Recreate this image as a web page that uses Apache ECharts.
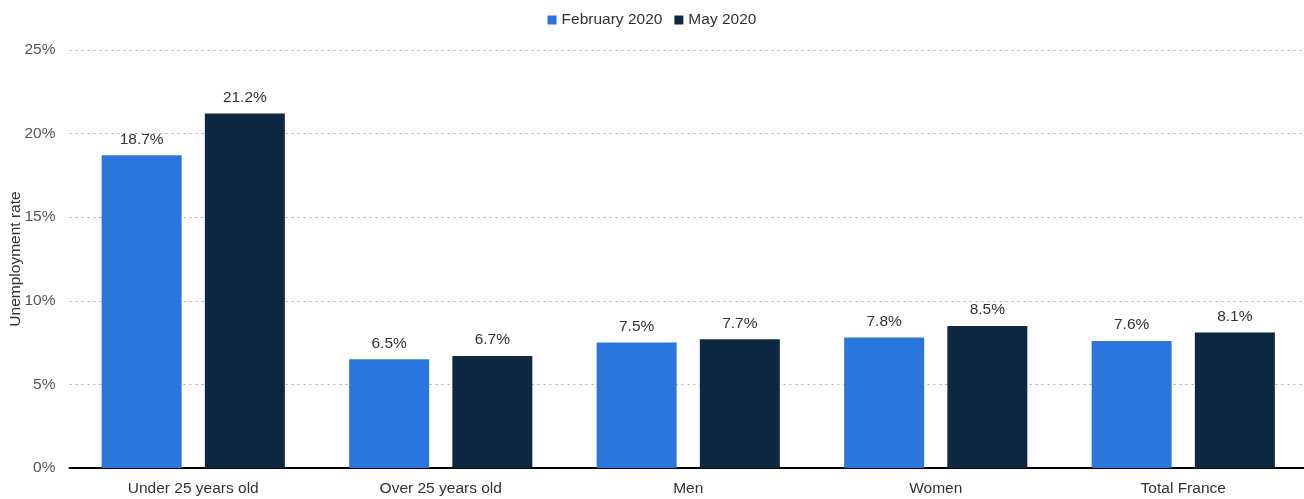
<!DOCTYPE html>
<html><head><meta charset="utf-8">
<script src="https://cdn.jsdelivr.net/npm/echarts@6/dist/echarts.min.js"></script>
<style>html,body{margin:0;padding:0;background:#fff}#c{width:1304px;height:499px}</style>
</head><body><div id="c"></div>
<script>
const categories = ["Under 25 years old", "Over 25 years old", "Men", "Women", "Total France"];
const feb2020 = [18.7, 6.5, 7.5, 7.8, 7.6];
const may2020 = [21.2, 6.7, 7.7, 8.5, 8.1];
const seriesNames = ["February 2020", "May 2020"];
const yTicks = [0, 5, 10, 15, 20, 25];

const chart = echarts.init(document.getElementById('c'), null, {renderer: 'canvas'});
const lbl = {show: true, position: 'top', distance: 8, color: '#333', fontSize: 15.5, fontFamily: 'Liberation Sans, Arial, sans-serif', formatter: p => p.value.toFixed(1) + '%'};
chart.setOption({
  animation: false,
  textStyle: {fontFamily: 'Liberation Sans, Arial, sans-serif'},
  legend: {
    top: 7, left: 'center', itemWidth: 9, itemHeight: 9, itemGap: 12,
    icon: 'rect',
    textStyle: {color: '#333', fontSize: 15.5},
    data: seriesNames
  },
  grid: {left: 69.5, right: -3, top: 50, bottom: 31, containLabel: false, outerBoundsMode: 'none'},
  xAxis: {
    type: 'category', data: categories,
    axisLine: {lineStyle: {color: '#000', width: 2}},
    axisTick: {show: false},
    axisLabel: {color: '#333', fontSize: 15.5, margin: 13}
  },
  yAxis: {
    type: 'value', min: yTicks[0], max: yTicks[yTicks.length - 1], interval: 5,
    name: 'Unemployment rate', nameLocation: 'middle', nameGap: 46, nameMoveOverlap: false,
    nameTextStyle: {color: '#333', fontSize: 15.5},
    axisLabel: {color: '#555', fontSize: 15.5, formatter: v => v + '%', margin: 14},
    axisLine: {show: false}, axisTick: {show: false},
    splitLine: {lineStyle: {color: '#aaa', type: [2, 4], width: 1}}
  },
  series: [
    {name: seriesNames[0], type: 'bar', data: feb2020, barWidth: 80, barGap: '29%', itemStyle: {color: '#2a76dd'}, label: lbl},
    {name: seriesNames[1], type: 'bar', data: may2020, barWidth: 80, itemStyle: {color: '#0e2841'}, label: lbl}
  ]
});
</script></body></html>
